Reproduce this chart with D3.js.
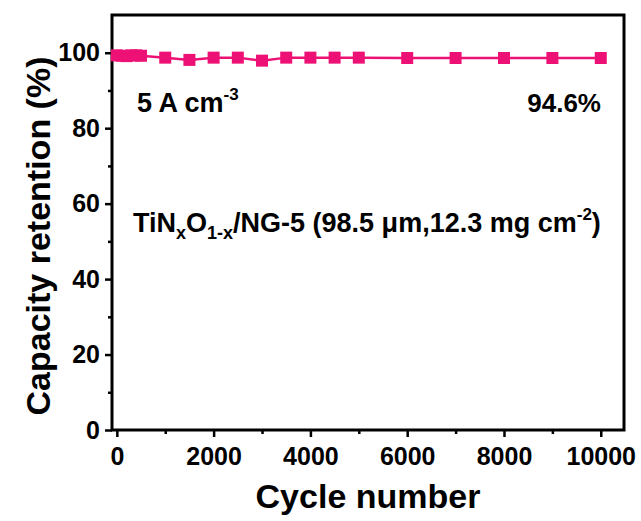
<!DOCTYPE html>
<html>
<head>
<meta charset="utf-8">
<script src="https://cdn.jsdelivr.net/npm/d3@7"></script>
<style>
  html, body { margin: 0; padding: 0; background: #fff; }
  text { font-family: "Liberation Sans", Arial, sans-serif; font-weight: bold; fill: #000; }
</style>
</head>
<body>
<svg id="chart" width="641" height="521"></svg>
<script>
// Cycle life data
const cycles = [0, 100, 200, 300, 400, 500, 1000, 1500, 2000, 2500, 3000, 3500, 4000, 4500, 5000, 6000, 7000, 8000, 9000, 10000];
const retention = [99.3, 99.2, 99.1, 99.3, 99.3, 99.2, 98.7, 98.1, 98.7, 98.7, 97.9, 98.7, 98.7, 98.7, 98.7, 98.6, 98.6, 98.6, 98.6, 98.6];
const xTicks = [0, 2000, 4000, 6000, 8000, 10000];
const yTicks = [0, 20, 40, 60, 80, 100];

const svg = d3.select("#chart");
const m = { left: 112, top: 15, right: 624, bottom: 430 };
const color = "#ee1175";

const x = d3.scaleLinear().domain([-100, 10480]).range([m.left, m.right]);
const y = d3.scaleLinear().domain([0, 110]).range([m.bottom, m.top]);

// Axes with outward major and minor ticks
const xAxis = d3.axisBottom(x).tickValues(xTicks).tickSize(7).tickPadding(10).tickFormat(d3.format("d"));
const xMinor = d3.axisBottom(x).tickValues(d3.range(1000, 10001, 2000)).tickSize(4).tickFormat("");
const yAxis = d3.axisLeft(y).tickValues(yTicks).tickSize(7).tickPadding(5);
const yMinor = d3.axisLeft(y).tickValues(d3.range(10, 101, 20)).tickSize(4).tickFormat("");

function style(g) {
  g.select(".domain").remove();
  g.selectAll("line").attr("stroke", "#000").attr("stroke-width", 2.5);
  g.selectAll("text").style("font-size", "25px").attr("fill", "#000");
}

svg.append("g").attr("transform", `translate(0,${m.bottom})`).call(xAxis).call(style);
svg.append("g").attr("transform", `translate(0,${m.bottom})`).call(xMinor).call(style);
svg.append("g").attr("transform", `translate(${m.left},0)`).call(yAxis).call(style);
svg.append("g").attr("transform", `translate(${m.left},0)`).call(yMinor).call(style);

// Frame
svg.append("rect")
  .attr("x", m.left).attr("y", m.top)
  .attr("width", m.right - m.left).attr("height", m.bottom - m.top)
  .attr("fill", "none").attr("stroke", "#000").attr("stroke-width", 3);

// Series line and square markers
const pts = cycles.map((c, i) => [c, retention[i]]);
svg.append("path")
  .datum(pts)
  .attr("fill", "none").attr("stroke", color).attr("stroke-width", 2.5)
  .attr("d", d3.line().x(d => x(d[0])).y(d => y(d[1])));

const s = 12;
svg.selectAll("rect.pt").data(pts).enter().append("rect")
  .attr("class", "pt")
  .attr("x", d => x(d[0]) - s / 2).attr("y", d => y(d[1]) - s / 2)
  .attr("width", s).attr("height", s)
  .attr("fill", color);

// Axis titles
svg.append("text")
  .attr("x", 368).attr("y", 508)
  .attr("text-anchor", "middle").style("font-size", "34px")
  .text("Cycle number");
svg.append("text")
  .attr("transform", `translate(50,236) rotate(-90)`)
  .attr("text-anchor", "middle").style("font-size", "34px")
  .text("Capacity retention (%)");

// Annotations
const a1 = svg.append("text").attr("x", 137).attr("y", 112).style("font-size", "27px");
a1.append("tspan").text("5 A cm");
a1.append("tspan").attr("dy", -12).style("font-size", "17px").text("-3");

svg.append("text").attr("x", 601).attr("y", 112).attr("text-anchor", "end")
  .style("font-size", "26px").text("94.6%");

const a3 = svg.append("text").attr("x", 133).attr("y", 232).style("font-size", "27px");
a3.append("tspan").text("TiN");
a3.append("tspan").attr("dy", 7).style("font-size", "18px").text("x");
a3.append("tspan").attr("dy", -7).text("O");
a3.append("tspan").attr("dy", 7).style("font-size", "18px").text("1-x");
a3.append("tspan").attr("dy", -7).text("/NG-5 (98.5 μm,12.3 mg cm");
a3.append("tspan").attr("dy", -12).style("font-size", "17px").text("-2");
a3.append("tspan").attr("dy", 12).text(")");
</script>
</body>
</html>
